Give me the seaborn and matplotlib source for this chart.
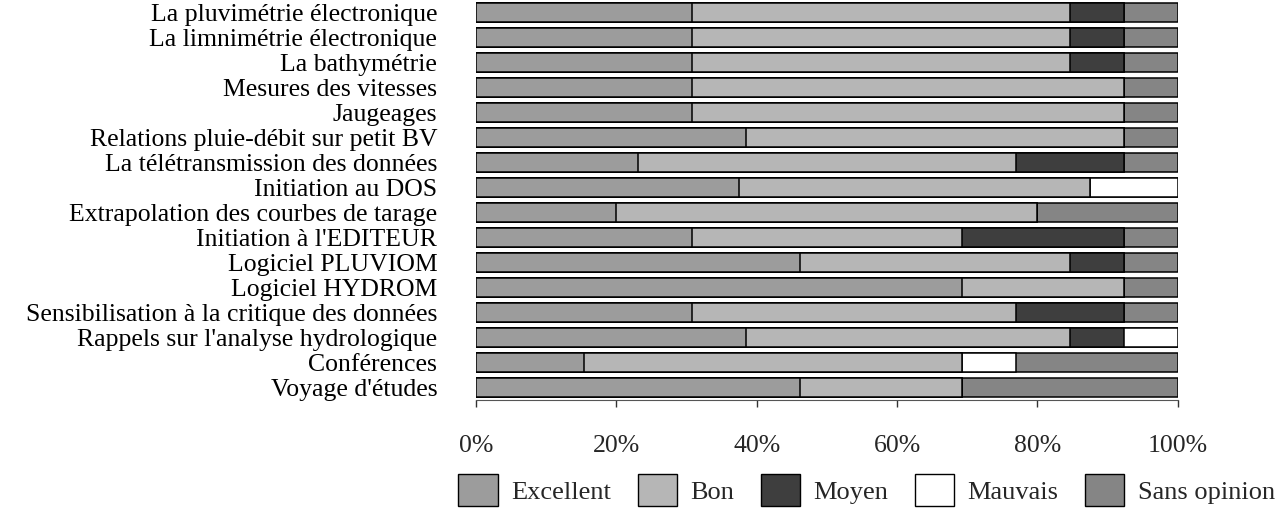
import numpy as np
import pandas as pd
import matplotlib
matplotlib.use("Agg")
import matplotlib.pyplot as plt
from matplotlib.patches import Patch
import seaborn as sns

# Training modules, top to bottom
modules = [
    "La pluvimétrie électronique",
    "La limnimétrie électronique",
    "La bathymétrie",
    "Mesures des vitesses",
    "Jaugeages",
    "Relations pluie-débit sur petit BV",
    "La télétransmission des données",
    "Initiation au DOS",
    "Extrapolation des courbes de tarage",
    "Initiation à l'EDITEUR",
    "Logiciel PLUVIOM",
    "Logiciel HYDROM",
    "Sensibilisation à la critique des données",
    "Rappels sur l'analyse hydrologique",
    "Conférences",
    "Voyage d'études",
]

# Share of answers (%) for each rating
excellent = [30.8, 30.8, 30.8, 30.8, 30.8, 38.5, 23.1, 37.5, 20.0, 30.8, 46.2, 69.2, 30.8, 38.5, 15.4, 46.2]
bon =       [53.8, 53.8, 53.8, 61.5, 61.5, 53.8, 53.8, 50.0, 60.0, 38.5, 38.5, 23.1, 46.2, 46.2, 53.8, 23.1]
moyen =     [7.7, 7.7, 7.7, 0.0, 0.0, 0.0, 15.4, 0.0, 0.0, 23.1, 7.7, 0.0, 15.4, 7.7, 0.0, 0.0]
mauvais =   [0.0, 0.0, 0.0, 0.0, 0.0, 0.0, 0.0, 12.5, 0.0, 0.0, 0.0, 0.0, 0.0, 7.7, 7.7, 0.0]
sans_opinion = [7.7, 7.7, 7.7, 7.7, 7.7, 7.7, 7.7, 0.0, 20.0, 7.7, 7.7, 7.7, 7.7, 0.0, 23.1, 30.8]

ratings = ["Excellent", "Bon", "Moyen", "Mauvais", "Sans opinion"]
colors = ["#9c9c9c", "#b6b6b6", "#3e3e3e", "#ffffff", "#858585"]
tick_values = [0, 20, 40, 60, 80, 100]
tick_labels = ["0%", "20%", "40%", "60%", "80%", "100%"]

df = pd.DataFrame({"module": modules, "Excellent": excellent, "Bon": bon,
                   "Moyen": moyen, "Mauvais": mauvais, "Sans opinion": sans_opinion})
cum = df[ratings].cumsum(axis=1)

sns.set_theme(style="white")
plt.rcParams["font.family"] = ["Liberation Serif", "DejaVu Serif"]

fig = plt.figure(figsize=(12.8, 5.13), dpi=100)
ax = fig.add_axes([0.372, 0.2203, 0.548, 0.7797])

# stacked bars: draw cumulative totals from the last rating back to the first
for rating, color in reversed(list(zip(ratings, colors))):
    sns.barplot(x=cum[rating], y=df["module"], orient="h", color=color,
                edgecolor="black", linewidth=1.1, width=0.76, ax=ax,
                saturation=1)

ax.set_xlim(0, 100)
ax.set_ylim(15.5, -0.5)
ax.set_xlabel("")
ax.set_ylabel("")
ax.set_xticks(tick_values)
ax.set_xticklabels(tick_labels, fontsize=18.5)
ax.tick_params(axis="x", direction="out", length=5, width=1, color="#333333", pad=20, bottom=True)
ax.tick_params(axis="y", length=0, pad=28, labelsize=18.5)
for lbl in ax.get_yticklabels():
    lbl.set_color("black")
for side in ["top", "right", "left"]:
    ax.spines[side].set_visible(False)
ax.spines["bottom"].set_color("#555555")
ax.spines["bottom"].set_linewidth(0.8)

handles = [Patch(facecolor=c, edgecolor="black", linewidth=1.0) for c in colors]
fig.legend(handles, ratings, loc="center", bbox_to_anchor=(0.677, 0.045), ncol=5,
           frameon=False, fontsize=19, handlelength=1.5, handleheight=1.45,
           handletextpad=0.5, columnspacing=1.0, borderaxespad=0, borderpad=0)

fig.savefig("out.png", dpi=100)
